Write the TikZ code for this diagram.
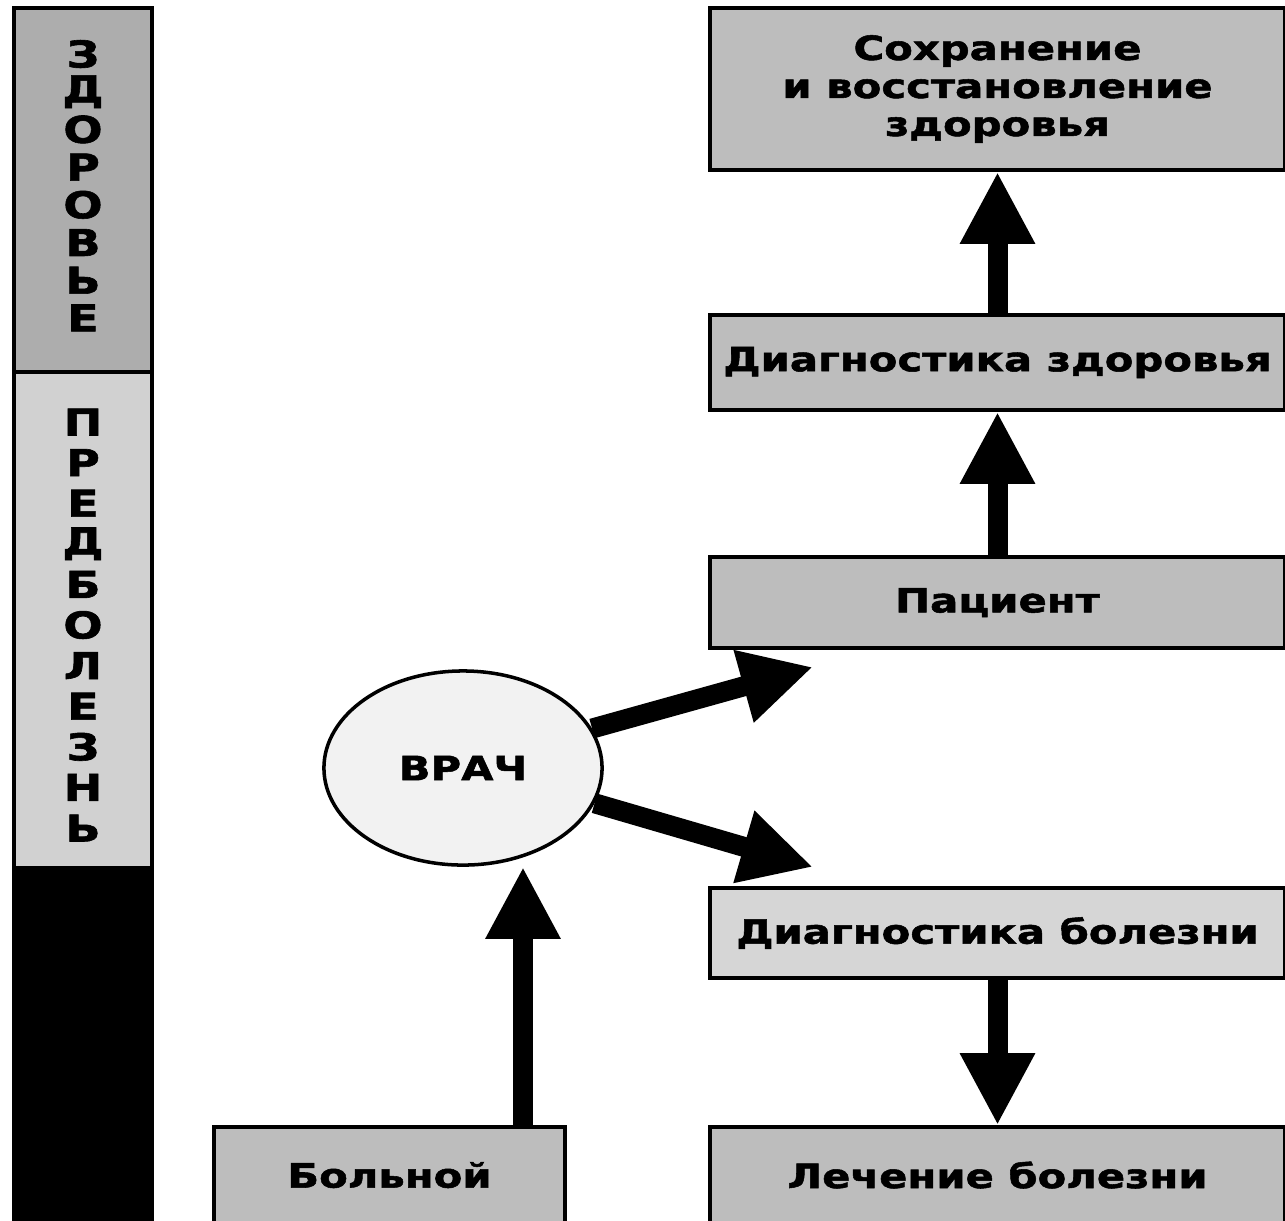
\documentclass[tikz,border=0pt]{standalone}
\usepackage{fontspec}
\usepackage{tikz}
\usetikzlibrary{arrows.meta,shapes.geometric}
\newfontfamily\widebold{DejaVu Sans}[FakeStretch=1.25,FakeBold=1.6]
\newcommand*{\BoxFont}{\widebold\bfseries\fontsize{9.5}{10.8}\selectfont}
\newcommand*{\BarFont}{\widebold\bfseries\fontsize{10.5}{11}\selectfont}
\definecolor{boxgray}{gray}{0.74}
\definecolor{lightgray}{gray}{0.84}
\definecolor{healthgray}{gray}{0.68}
\definecolor{predgray}{gray}{0.82}
\definecolor{doctorgray}{gray}{0.95}

\tikzset{
    box/.style={draw, line width=1pt, fill=boxgray, minimum width=5.75cm,
        inner sep=0pt, align=center, font=\BoxFont},
    barletter/.style={font=\BarFont, inner sep=0pt},
    arr/.style={line width=0.2cm, -{Triangle[width=0.7cm,length=0.72cm]}}
}

\begin{document}
\begin{tikzpicture}[x=0.01cm, y=-0.01cm]
    \useasboundingbox (0,0) rectangle (1285,1220);
    % scale on the left
    \fill[healthgray] (14,8) rectangle (152,372);
    \fill[predgray] (14,372) rectangle (152,866);
    \fill[black] (14,866) rectangle (152,1225);
    \draw[line width=1.2pt] (14,1225) -- (14,8) -- (152,8) -- (152,1225);
    \draw[line width=1pt] (14,372) -- (152,372);
    \foreach \ch [count=\i] in {З,Д,О,Р,О,В,Ь,Е}
        \node[barletter] (zd\i) at (83,{54+37.7*(\i-1)}) {\ch};
    \foreach \ch [count=\i] in {П,Р,Е,Д,Б,О,Л,Е,З,Н,Ь}
        \node[barletter] (pb\i) at (83,{422+40.6*(\i-1)}) {\ch};

    % boxes
    \node[box, minimum height=1.62cm] (save) at (997.5,89)
        {Сохранение\\и восстановление\\здоровья};
    \node[box, minimum height=0.95cm] (diagz) at (997.5,362.5) {Диагностика здоровья};
    \node[box, minimum height=0.91cm] (pac) at (997.5,602.5) {Пациент};
    \node[box, minimum height=0.9cm, fill=lightgray] (diagb) at (997.5,933) {Диагностика болезни};
    \node[box, minimum height=0.96cm] (lech) at (997.5,1175) {Лечение болезни};
    \node[box, minimum height=0.96cm, minimum width=3.51cm] (bol) at (389.5,1175) {Больной};
    \node[ellipse, draw, line width=1pt, fill=doctorgray, inner sep=0pt,
        minimum width=2.78cm, minimum height=1.94cm, font=\BoxFont] (vrach) at (463,768) {ВРАЧ};

    % arrows
    \coordinate (up) at (813,667);
    \coordinate (down) at (813,867);
    \coordinate (bx) at (523,0);
    \draw[arr] (diagz.north) -- (save.south);
    \draw[arr] (pac.north) -- (diagz.south);
    \draw[arr] (diagb.south) -- (lech.north);
    \draw[arr] (bol.north -| bx) -- (vrach.south -| bx);
    \draw[arr] (vrach.17) -- (up);
    \draw[arr] (vrach.-15) -- (down);
\end{tikzpicture}
\end{document}
